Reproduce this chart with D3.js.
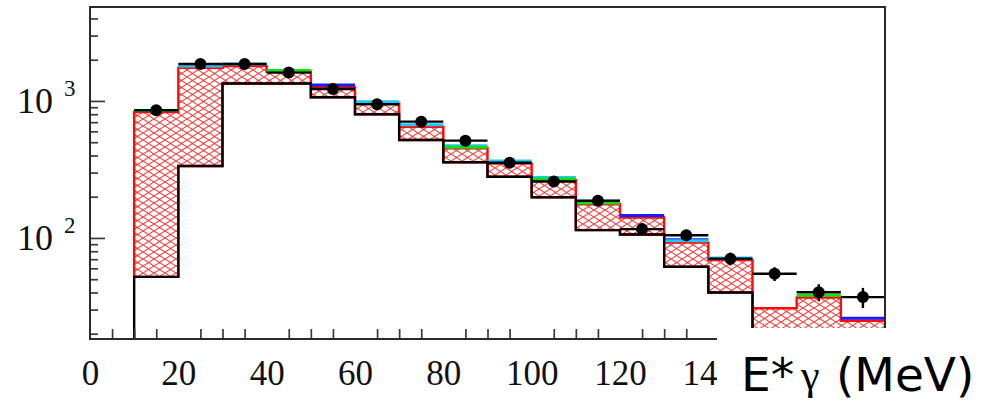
<!DOCTYPE html>
<html>
<head>
<meta charset="utf-8">
<script src="https://cdn.jsdelivr.net/npm/d3@7"></script>
<style>
body { margin: 0; background: #fff; }
</style>
</head>
<body>
<div id="chart"></div>
<script>
const WIDTH = 982;
const HEIGHT = 403;

// histogram bins (lower edges, MeV), 10 MeV wide
var binLow = [10, 20, 30, 40, 50, 60, 70, 80, 90, 100, 110, 120, 130, 140, 150, 160, 170];
var binWidth = 10;

// black background histogram
var background = [52, 335, 1340, 1340, 1065, 800, 519, 357, 280, 198, 114, 106, 61.6, 40, 8, 6, 5];
// top of the red hatched part
var signalTop = [831, 1745, 1795, 1635, 1260, 958, 648, 452, 349, 264, 176, 141, 92.5, 69, 30.7, 36.8, 24.9];
// thin stacked components on top
var greenPart = [22, 0, 0, 35, 0, 0, 0, 7, 0, 5, 4, 0, 0, 0, 0, 1.3, 0];
var cyanPart  = [0, 52, 65, 0, 0, 30, 22, 11, 15, 7, 5, 0, 3, 2.4, 0, 0, 0];
var bluePart  = [0, 0, 0, 0, 45, 0, 0, 0, 0, 0, 0, 5, 1.5, 0, 0, 0, 1];

// data points
var dataValues = [855, 1860, 1860, 1610, 1223, 946, 706, 513, 354, 258, 187, 116, 104.6, 70.6, 54.8, 40.2, 37];
var dataErrors = [30, 45, 45, 40, 36, 32, 27, 23, 19, 16, 14, 11, 10, 7.5, 6.3, 5.7, 6.2];

// x tick labels that are visible (the lower right corner is covered by the title box)
var xMajor = [0, 20, 40, 60, 80, 100, 120, 140, 160, 180];
var xLabels = ["0", "20", "40", "60", "80", "100", "120", "140", "", ""];
var xMinor = [5, 10, 15, 25, 30, 35, 45, 50, 55, 65, 70, 75, 85, 90, 95, 105, 110, 115,
              125, 130, 135, 145, 150, 155, 165, 170, 175];
var yMajor = [100, 1000];
var yMajorExp = ["2", "3"];
var yMinor = [20, 30, 40, 50, 60, 70, 80, 90, 200, 300, 400, 500, 600, 700, 800, 900, 2000, 3000, 4000];

var x = d3.scaleLinear().domain([0, 180]).range([90, 885]);
var y = d3.scaleLog().domain([18.3, 4850]).range([339, 7]).clamp(true);

var svg = d3.select('#chart').append('svg')
    .attr('width', WIDTH)
    .attr('height', HEIGHT);

var defs = svg.append('defs');
defs.append('clipPath').attr('id', 'plotClip')
    .append('rect')
    .attr('x', x.range()[0]).attr('y', y.range()[1])
    .attr('width', x.range()[1] - x.range()[0])
    .attr('height', y.range()[0] - y.range()[1]);
defs.append('clipPath').attr('id', 'labelClip')
    .append('rect')
    .attr('x', 0).attr('y', 0)
    .attr('width', 717).attr('height', HEIGHT);

var hatch = defs.append('pattern')
    .attr('id', 'hatch')
    .attr('patternUnits', 'userSpaceOnUse')
    .attr('width', 11).attr('height', 7);
hatch.append('path')
    .attr('d', 'M0,0L11,7M0,7L11,0')
    .attr('stroke', '#ff2a2a')
    .attr('stroke-width', 1.05)
    .attr('fill', 'none');

var plot = svg.append('g').attr('clip-path', 'url(#plotClip)');

// cumulative tops
var greenTop = signalTop.map(function(v, i) { return v + greenPart[i]; });
var cyanTop = greenTop.map(function(v, i) { return v + cyanPart[i]; });
var blueTop = cyanTop.map(function(v, i) { return v + bluePart[i]; });

var stepPoints = function(values) {
  var pts = [];
  values.forEach(function(v, i) {
    pts.push([x(binLow[i]), y(v)]);
    pts.push([x(binLow[i] + binWidth), y(v)]);
  });
  return pts;
};

// red hatched region between background and signal top
var topPts = stepPoints(signalTop);
var lowPts = stepPoints(background).reverse();
plot.append('path')
    .attr('d', d3.line()(topPts.concat(lowPts)) + 'Z')
    .attr('fill', 'url(#hatch)')
    .attr('stroke', '#ff0a0a')
    .attr('stroke-width', 2.4);

// thin colored components, drawn top-down so lower ones overlay
var layers = [
  { top: blueTop, part: bluePart, color: '#1a1aff' },
  { top: cyanTop, part: cyanPart, color: '#1ec8ff' },
  { top: greenTop, part: greenPart, color: '#10e010' }
];
layers.forEach(function(layer) {
  plot.selectAll(null)
      .data(binLow.map(function(lo, i) { return i; }).filter(function(i) { return layer.part[i] > 0; }))
      .enter()
      .append('line')
      .attr('x1', function(i) { return x(binLow[i]); })
      .attr('x2', function(i) { return x(binLow[i] + binWidth); })
      .attr('y1', function(i) { return y(layer.top[i]); })
      .attr('y2', function(i) { return y(layer.top[i]); })
      .attr('stroke', layer.color)
      .attr('stroke-width', 3);
});

// black background histogram
var bgPts = [[x(binLow[0]), y.range()[0]]].concat(stepPoints(background));
plot.append('path')
    .attr('d', d3.line()(bgPts))
    .attr('fill', 'none')
    .attr('stroke', '#000')
    .attr('stroke-width', 2.4);

// data points with error bars
var pts = plot.selectAll('.pt')
    .data(dataValues)
    .enter()
    .append('g')
    .classed('pt', true);
pts.append('line')
    .attr('x1', function(d, i) { return x(binLow[i]); })
    .attr('x2', function(d, i) { return x(binLow[i] + binWidth); })
    .attr('y1', function(d) { return y(d); })
    .attr('y2', function(d) { return y(d); })
    .attr('stroke', '#000').attr('stroke-width', 2.4);
pts.append('line')
    .attr('x1', function(d, i) { return x(binLow[i] + binWidth / 2); })
    .attr('x2', function(d, i) { return x(binLow[i] + binWidth / 2); })
    .attr('y1', function(d, i) { return y(d - dataErrors[i]); })
    .attr('y2', function(d, i) { return y(d + dataErrors[i]); })
    .attr('stroke', '#000').attr('stroke-width', 2.4);
pts.append('circle')
    .attr('cx', function(d, i) { return x(binLow[i] + binWidth / 2); })
    .attr('cy', function(d) { return y(d); })
    .attr('r', 6)
    .attr('fill', '#000');

// axes
var serif = '"Liberation Serif", "Times New Roman", serif';

var xAxisMajor = d3.axisBottom(x).tickValues(xMajor).tickSize(-19).tickSizeOuter(0)
    .tickFormat(function(d, i) { return xLabels[i]; });
var xAxisMinor = d3.axisBottom(x).tickValues(xMinor).tickSize(-10).tickSizeOuter(0).tickFormat('');
var yAxisMajor = d3.axisLeft(y).tickValues(yMajor).tickSize(-15).tickSizeOuter(0).tickFormat('');
var yAxisMinor = d3.axisLeft(y).tickValues(yMinor).tickSize(-8).tickSizeOuter(0).tickFormat('');

var gx = svg.append('g').attr('transform', 'translate(0,' + y.range()[0] + ')');
gx.append('g').call(xAxisMinor);
gx.append('g').attr('clip-path', 'url(#labelClip)').call(xAxisMajor);
gx.selectAll('text')
    .attr('y', 46).attr('dy', 0)
    .attr('font-family', serif).attr('font-size', 35).attr('fill', '#111');

var gy = svg.append('g').attr('transform', 'translate(' + x.range()[0] + ',0)');
gy.append('g').call(yAxisMinor);
gy.append('g').call(yAxisMajor);

svg.selectAll('.domain').remove();
svg.selectAll('.tick line').attr('stroke', '#3a3a3a').attr('stroke-width', 1.7);

// 10^n labels
yMajor.forEach(function(v, i) {
  svg.append('text')
      .attr('x', 53).attr('y', y(v) + 12)
      .attr('text-anchor', 'end')
      .attr('font-family', serif).attr('font-size', 36).attr('fill', '#111')
      .text('10');
  svg.append('text')
      .attr('x', 64).attr('y', y(v) - 5)
      .attr('font-family', serif).attr('font-size', 23).attr('fill', '#111')
      .text(yMajorExp[i]);
});

// frame
svg.append('rect')
    .attr('x', x.range()[0]).attr('y', y.range()[1])
    .attr('width', x.range()[1] - x.range()[0])
    .attr('height', y.range()[0] - y.range()[1])
    .attr('fill', 'none')
    .attr('stroke', '#2a2a2a')
    .attr('stroke-width', 2);

// white box over lower right with the axis title
svg.append('rect')
    .attr('x', 717).attr('y', 328)
    .attr('width', WIDTH - 717).attr('height', HEIGHT - 328)
    .attr('fill', '#fff');

var sans = '"Comic Sans MS", "DejaVu Sans", sans-serif';
var title = svg.append('g').attr('fill', '#000');
title.append('text')
    .attr('x', 741).attr('y', 391)
    .attr('font-family', sans).attr('font-size', 47)
    .text('E*');
title.append('text')
    .attr('x', 801).attr('y', 389)
    .attr('font-family', serif).attr('font-size', 42)
    .text('γ');
title.append('text')
    .attr('x', 836).attr('y', 391)
    .attr('font-family', sans).attr('font-size', 47)
    .text('(MeV)');
</script>
</body>
</html>
